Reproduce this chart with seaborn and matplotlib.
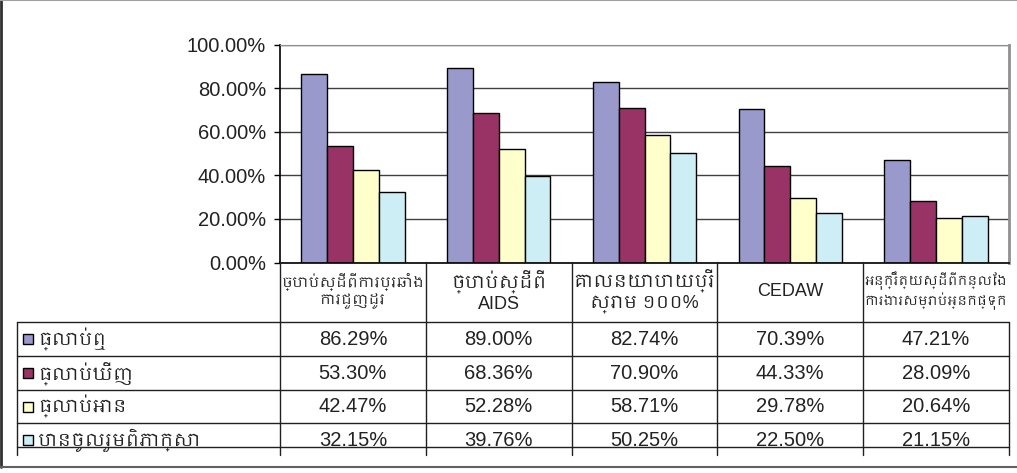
import matplotlib
matplotlib.use("Agg")
import matplotlib.pyplot as plt
import seaborn as sns
import pandas as pd
from matplotlib import font_manager
from matplotlib.patches import Rectangle
from matplotlib.ticker import PercentFormatter
from matplotlib.transforms import blended_transform_factory

categories = [
    "ច្បាប់ស្ដីពីការប្រឆាំង\nការជួញដូរ",
    "ច្បាប់ស្ដីពី\nAIDS",
    "គោលនយោបាយប្រើ\nស្រោម ១០០%",
    "CEDAW",
    "អនុក្រឹត្យស្ដីពីកន្លែង\nការងារសម្រាប់អ្នកផ្ទុក",
]
series = ["ធ្លាប់ឮ", "ធ្លាប់ឃើញ", "ធ្លាប់អាន", "បានចូលរួមពិភាក្សា"]
heard = [86.29, 89.00, 82.74, 70.39, 47.21]
seen = [53.30, 68.36, 70.90, 44.33, 28.09]
read = [42.47, 52.28, 58.71, 29.78, 20.64]
discussed = [32.15, 39.76, 50.25, 22.50, 21.15]
colors = ["#9999CC", "#993366", "#FFFFCC", "#CCEEF4"]

values = [heard, seen, read, discussed]
rows = []
for name, vals in zip(series, values):
    for cat, v in zip(categories, vals):
        rows.append({"category": cat, "series": name, "value": v})
df = pd.DataFrame(rows)

sns.set_style("white")
# use a Khmer font if one happens to be installed
khmer = [f.name for f in font_manager.fontManager.ttflist if "Khmer" in f.name]
plt.rcParams["font.family"] = ["Liberation Sans"] + khmer[:1] + ["DejaVu Sans"]

W, H = 1017, 473
fig = plt.figure(figsize=(W / 100, H / 100), dpi=100)
ax = fig.add_axes([280 / W, (H - 262.5) / H, 729 / W, 218 / H])

sns.barplot(data=df, x="category", y="value", hue="series", order=categories,
            hue_order=series, palette=colors, saturation=1, width=0.71,
            edgecolor="black", linewidth=1, legend=False, ax=ax)

ax.set_xlim(-0.5, len(categories) - 0.5)
ax.set_ylim(0, 100)
ax.set_yticks([0, 20, 40, 60, 80, 100])
ax.yaxis.set_major_formatter(PercentFormatter(100, decimals=2))
ax.yaxis.grid(True, color="#404040", linewidth=1)
ax.set_axisbelow(True)
ax.set_xlabel("")
ax.set_ylabel("")
ax.tick_params(axis="x", length=0, labelbottom=False)
ax.tick_params(axis="y", direction="out", length=4, width=1, color="black",
               labelsize=14.5, pad=6, left=True, labelcolor="#222222")
for s in ["left", "bottom"]:
    ax.spines[s].set_color("black")
    ax.spines[s].set_linewidth(1.2)
ax.spines["top"].set_color("#909090")
ax.spines["right"].set_color("#909090")
ax.spines["right"].set_linewidth(2)

# overlay in pixel coordinates for the data table
tab = fig.add_axes([0, 0, 1, 1])
tab.set_xlim(0, W)
tab.set_ylim(H, 0)
tab.axis("off")
tab.patch.set_visible(False)
trans = blended_transform_factory(ax.transData, tab.transData)

row_lines = [322, 356, 390, 423, 447]
row_centers = [339, 373, 406.5, 440]
line_kw = dict(color="#202020", linewidth=1, clip_on=False)

for k in range(len(categories) + 1):
    top = 262 if k < len(categories) else 322
    tab.plot([k - 0.5, k - 0.5], [top, 455], transform=trans, **line_kw)
tab.plot([17, 17], [322, 455], **line_kw)
for y in row_lines:
    tab.plot([17, 280], [y, y], **line_kw)
    tab.plot([-0.5, len(categories) - 0.5], [y, y], transform=trans, **line_kw)

renderer = fig.canvas.get_renderer()
for i, cat in enumerate(categories):
    t = tab.text(i, 291, cat, transform=trans, ha="center", va="center",
                 multialignment="center", fontsize=13, linespacing=1.2,
                 color="#222222")
    # shrink long headers so they stay inside their cell
    w = t.get_window_extent(renderer).width
    if w > 142:
        t.set_fontsize(13 * 142 / w)

for name, vals, col, yc in zip(series, values, colors, row_centers):
    tab.add_patch(Rectangle((23, yc - 5), 10, 10, facecolor=col,
                            edgecolor="black", linewidth=1))
    tab.text(38, yc, name, ha="left", va="center", fontsize=13, color="#222222")
    for i, v in enumerate(vals):
        tab.text(i, yc, f"{v:.2f}%", transform=trans, ha="center", va="center",
                 fontsize=14.5, color="#222222")

# chart frame
tab.plot([1, 1], [0, 467], color="#303030", linewidth=2, clip_on=False)
tab.plot([0, W], [0.5, 0.5], color="#a0a0a0", linewidth=1.5, clip_on=False)
tab.plot([0, W], [467, 467], color="#606060", linewidth=1.5, clip_on=False)

fig.savefig("out.png", dpi=100)
